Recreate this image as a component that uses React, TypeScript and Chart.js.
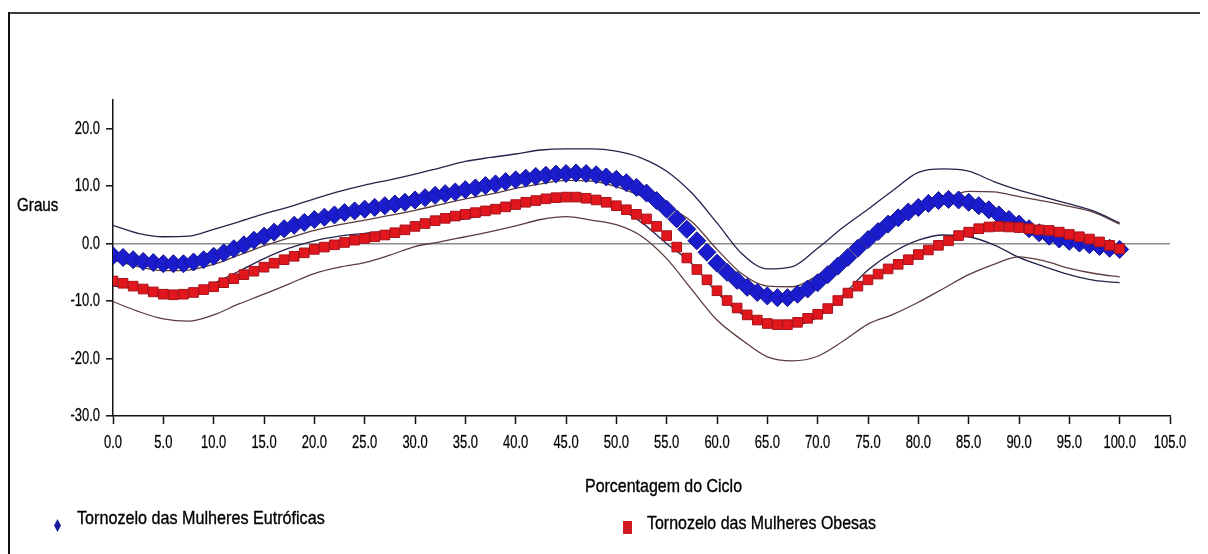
import { useEffect, useRef } from "react";
import { Chart, registerables } from "chart.js";

Chart.register(...registerables);

const FONT = "'Liberation Sans', Arimo, Arial, sans-serif";

// x positions (percent of the gait cycle)
const cyclePercent = Array.from({ length: 101 }, (_, i) => i);
const sdPercent = Array.from({ length: 41 }, (_, i) => i * 2.5);
const yTickValues = [-30, -20, -10, 0, 10, 20];

const xTitle = "Porcentagem do Ciclo";
const yTitle = "Graus";
const labelEutroficas = "Tornozelo das Mulheres Eutróficas";
const labelObesas = "Tornozelo das Mulheres Obesas";

// mean curves, one value per 1 %
const blueMean = [
  -2.1, -2.4, -2.8, -3.1, -3.3, -3.5, -3.5, -3.5, -3.2, -2.8,
  -2.2, -1.6, -0.9, -0.2, 0.6, 1.3, 2.0, 2.6, 3.2, 3.7,
  4.2, 4.6, 5.0, 5.4, 5.7, 6.0, 6.3, 6.6, 6.9, 7.2,
  7.6, 8.0, 8.4, 8.7, 9.0, 9.4, 9.7, 10.1, 10.4, 10.8,
  11.1, 11.4, 11.7, 11.9, 12.1, 12.2, 12.3, 12.2, 12.0, 11.6,
  11.2, 10.6, 9.8, 8.8, 7.5, 6.0, 4.3, 2.5, 0.5, -1.5,
  -3.4, -5.0, -6.4, -7.6, -8.5, -9.1, -9.4, -9.4, -8.8, -7.9,
  -6.8, -5.4, -3.9, -2.4, -0.8, 0.7, 2.1, 3.4, 4.5, 5.5,
  6.3, 7.0, 7.5, 7.7, 7.6, 7.2, 6.6, 5.9, 5.0, 4.2,
  3.4, 2.6, 1.9, 1.3, 0.8, 0.4, 0.1, -0.2, -0.5, -0.8,
  -1.0,
];

const redMean = [
  -6.5, -6.9, -7.4, -7.9, -8.4, -8.8, -8.9, -8.8, -8.5, -8.0,
  -7.5, -6.8, -6.1, -5.4, -4.8, -4.1, -3.4, -2.8, -2.2, -1.6,
  -1.0, -0.6, -0.2, 0.2, 0.6, 0.9, 1.2, 1.5, 1.9, 2.4,
  3.0, 3.5, 4.0, 4.4, 4.8, 5.1, 5.4, 5.7, 6.0, 6.4,
  6.8, 7.2, 7.5, 7.8, 8.0, 8.1, 8.1, 7.9, 7.6, 7.2,
  6.6, 5.9, 5.1, 4.3, 3.0, 1.4, -0.6, -2.5, -4.5, -6.3,
  -8.2, -9.9, -11.2, -12.4, -13.3, -13.9, -14.1, -14.1, -13.7, -13.0,
  -12.3, -11.3, -9.9, -8.6, -7.4, -6.3, -5.3, -4.4, -3.6, -2.8,
  -1.9, -1.1, -0.3, 0.5, 1.4, 2.0, 2.6, 2.9, 3.0, 2.9,
  2.8, 2.6, 2.4, 2.3, 2.0, 1.6, 1.2, 0.8, 0.3, -0.3,
  -0.9,
];

// standard-deviation bands, one value per 2.5 %
const blueUpper = [
  3.2, 1.8, 1.2, 1.3, 2.5, 3.8, 5.2, 6.4, 7.8, 9.1,
  10.2, 11.1, 12.1, 13.2, 14.3, 15.0, 15.6, 16.3, 16.5, 16.5,
  16.1, 14.9, 12.6, 8.8, 3.6, -1.8, -4.4, -4.0, -0.8, 2.8,
  6.0, 9.3, 12.4, 13.0, 12.6, 10.8, 9.3, 8.1, 6.9, 5.6,
  3.6,
];
const blueLower = [
  -7.4, -7.8, -8.2, -8.1, -6.9, -4.8, -2.6, -0.8, 0.5, 1.3,
  1.8, 2.3, 3.1, 3.8, 4.3, 5.3, 6.5, 7.3, 7.9, 7.7,
  6.3, 3.7, 0.0, -3.5, -8.5, -12.3, -14.0, -14.2, -12.8, -9.0,
  -4.6, -1.5, 0.6, 1.5, 1.2, -0.2, -2.4, -4.0, -5.4, -6.4,
  -6.8,
];
const redUpper = [
  -2.8, -4.0, -4.7, -4.6, -3.6, -2.0, -0.4, 1.0, 2.3, 3.3,
  4.1, 4.9, 5.8, 6.8, 7.8, 8.6, 9.6, 10.4, 11.0, 10.9,
  9.9, 8.3, 6.6, 3.8, -1.0, -5.3, -7.4, -7.5, -5.5, -2.5,
  0.6, 3.3, 5.6, 7.6, 9.1, 9.0, 8.2, 7.4, 6.5, 5.4,
  3.4,
];
const redLower = [
  -10.1, -11.8, -13.1, -13.5, -12.4, -10.5, -8.8, -7.0, -5.2, -4.1,
  -3.3, -2.0, -0.5, 0.3, 1.2, 2.1, 3.1, 4.2, 4.7, 4.1,
  3.3, 1.3, -2.6, -8.0, -13.3, -16.8, -19.7, -20.4, -19.6, -17.0,
  -14.0, -12.3, -10.2, -7.8, -5.4, -3.6, -2.3, -3.0, -4.3, -5.2,
  -5.8,
];

const toPoints = (xs: number[], ys: number[]) => ys.map((y, i) => ({ x: xs[i], y }));

const sdLine = (label: string, xs: number[], ys: number[], color: string, order: number) => ({
  label,
  data: toPoints(xs, ys),
  borderColor: color,
  backgroundColor: color,
  borderWidth: 1.3,
  pointRadius: 0,
  cubicInterpolationMode: "monotone" as const,
  fill: false,
  order,
});

// draws the tick labels in a narrow (horizontally compressed) face, at the scales' own tick positions
const narrowTicks = {
  id: "narrowTicks",
  afterDraw(chart: any) {
    const ctx: CanvasRenderingContext2D = chart.ctx;
    const xs = chart.scales.x;
    const ys = chart.scales.y;
    const put = (x: number, y: number, s: string) => {
      ctx.save();
      ctx.translate(x, y);
      ctx.scale(0.72, 1);
      ctx.fillText(s, 0, 0);
      ctx.strokeText(s, 0, 0);
      ctx.restore();
    };
    ctx.save();
    ctx.fillStyle = "#000";
    ctx.strokeStyle = "rgba(0,0,0,0.55)";
    ctx.lineWidth = 0.5;
    ctx.font = `18px ${FONT}`;
    ctx.textBaseline = "middle";
    ctx.textAlign = "center";
    xs.ticks.forEach((t: any) => put(xs.getPixelForValue(t.value), xs.top + 27, Number(t.value).toFixed(1)));
    ctx.textAlign = "right";
    ys.ticks.forEach((t: any) => put(ys.right - 13, ys.getPixelForValue(t.value), Number(t.value).toFixed(1)));
    ctx.restore();
  },
};

export default function App() {
  const canvasRef = useRef<HTMLCanvasElement>(null);

  useEffect(() => {
    const chart = new Chart(canvasRef.current!, {
      type: "line",
      data: {
        datasets: [
          {
            label: labelObesas,
            data: toPoints(cyclePercent, redMean),
            showLine: false,
            pointStyle: "rect",
            pointRadius: 6.8,
            pointBackgroundColor: "#e2161d",
            pointBorderColor: "#a8121a",
            pointBorderWidth: 1,
            order: 0,
          },
          {
            label: labelEutroficas,
            data: toPoints(cyclePercent, blueMean),
            showLine: false,
            pointStyle: "rectRot",
            pointRadius: 9,
            pointBackgroundColor: "#1c1ccf",
            pointBorderColor: "#14148e",
            pointBorderWidth: 1,
            order: 1,
          },
          sdLine("Eutróficas + DP", sdPercent, blueUpper, "#24244c", 2),
          sdLine("Eutróficas - DP", sdPercent, blueLower, "#24244c", 3),
          sdLine("Obesas + DP", sdPercent, redUpper, "#5e3c3c", 4),
          sdLine("Obesas - DP", sdPercent, redLower, "#5e3c3c", 5),
        ] as any,
      },
      options: {
        animation: false,
        responsive: true,
        maintainAspectRatio: false,
        events: [],
        layout: { padding: { top: 92, right: 38, left: 0, bottom: 0 } },
        plugins: { legend: { display: false }, tooltip: { enabled: false } },
        scales: {
          x: {
            type: "linear",
            min: 0,
            max: 105,
            ticks: { stepSize: 5, autoSkip: false, maxRotation: 0, display: false },
            grid: {
              drawOnChartArea: false,
              tickLength: 8,
              tickColor: "#111",
              tickWidth: 1.5,
            },
            border: { color: "#111", width: 1.5 },
            afterFit: (s: any) => {
              s.height = 138;
            },
          },
          y: {
            type: "linear",
            min: -30,
            max: 25,
            afterBuildTicks: (s: any) => {
              s.ticks = yTickValues.map((v) => ({ value: v }));
            },
            ticks: { display: false },
            grid: {
              color: (c: any) => (c.tick && c.tick.value === 0 ? "#8c8c8c" : "rgba(0,0,0,0)"),
              lineWidth: 1.6,
              tickColor: "#111",
              tickLength: 7,
              tickWidth: 1.5,
            },
            border: { color: "#111", width: 1.5 },
            afterFit: (s: any) => {
              s.width = 105;
            },
          },
        } as any,
      },
      plugins: [narrowTicks],
    });
    return () => chart.destroy();
  }, []);

  const text = (left: number, top: number, content: string, size: number, sx: number) => (
    <div
      style={{
        position: "absolute",
        left,
        top,
        fontFamily: FONT,
        fontSize: size,
        lineHeight: "20px",
        color: "#000",
        whiteSpace: "nowrap",
        transform: `scaleX(${sx})`,
        transformOrigin: "0 50%",
        WebkitTextStroke: "0.35px #000",
      }}
    >
      {content}
    </div>
  );

  return (
    <div style={{ position: "relative", width: 1200, height: 546, background: "#fff" }}>
      <div style={{ position: "absolute", left: 0, top: 0, width: 1200, height: 546 }}>
        <canvas ref={canvasRef} />
      </div>
      <div style={{ position: "absolute", left: 0, top: 4, width: 1200, height: 2, background: "#3c3c3c" }} />
      <div style={{ position: "absolute", left: 0, top: 4, width: 1.5, height: 542, background: "#111" }} />
      {text(9, 187, yTitle, 19, 0.8)}
      {text(577, 468, xTitle, 19, 0.84)}
      <div
        style={{
          position: "absolute",
          left: 46,
          top: 511,
          width: 7,
          height: 13,
          background: "#1b1b9c",
          clipPath: "polygon(50% 0, 100% 50%, 50% 100%, 0 50%)",
        }}
      />
      {text(69, 500, labelEutroficas, 19, 0.85)}
      <div style={{ position: "absolute", left: 615, top: 513, width: 9, height: 13, background: "#cf1a1f" }} />
      {text(639, 505, labelObesas, 19, 0.84)}
    </div>
  );
}
